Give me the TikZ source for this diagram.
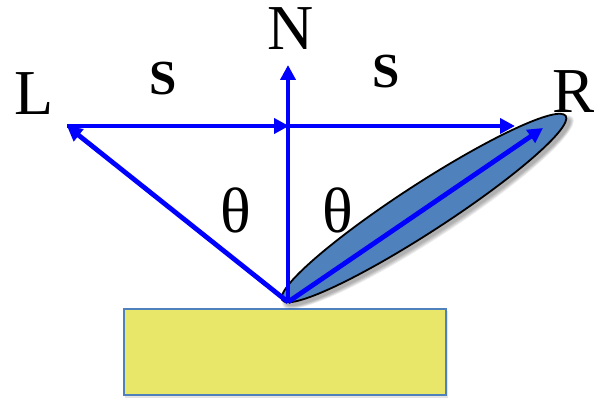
\documentclass[tikz,border=0pt]{standalone}
\usepackage{fontspec}
\setmainfont{Liberation Serif}
\usetikzlibrary{arrows.meta}
\definecolor{ellfill}{RGB}{79,129,189}
\definecolor{boxfill}{RGB}{232,231,106}
\definecolor{boxline}{RGB}{79,129,189}
\begin{document}
\begin{tikzpicture}[x=1pt,y=-1pt,
  vec/.style={draw={rgb,255:red,0;green,0;blue,255},line width=4.8pt,
    -{Triangle[length=15pt,width=15pt]}},
  big/.style={inner sep=0pt,font=\fontsize{64}{64}\selectfont},
  bigs/.style={inner sep=0pt,font=\fontsize{49}{49}\selectfont\bfseries}]
\useasboundingbox (0,0) rectangle (594,398);
% surface
\fill[black,opacity=0.10] (125,311) rectangle (448,398);
\draw[boxline,fill=boxfill,line width=2.4pt] (124,309) rectangle (446,395);
% lobe shadow
\foreach \k in {1,...,5}{
  \fill[black,opacity=0.07,rotate around={33:(428,212)}]
    (428,212) ellipse ({168+\k} and {22+\k});
}
% lobe
\node[coordinate] (C) at (424,208) {};
\draw[black,line width=1.8pt,fill=ellfill,rotate around={33:(C)}]
  (C) ellipse (169 and 24);
% points
\coordinate (P) at (288,302);
\coordinate (Lt) at (67,126);
\coordinate (M) at (289,126);
\coordinate (Rt) at (515,126);
\coordinate (Nt) at (288,65);
\coordinate (Ref) at (543,128);
% vectors
\draw[vec] (P) -- (Lt);
\draw[vec] (Lt) -- (M);
\draw[vec] (M) -- (Rt);
\draw[vec] (P) -- (Nt);
\draw[vec] (P) -- (Ref);
% labels
\node[big,anchor=base west] (lL) at (14,115) {L};
\node[big,anchor=base] (lN) at (291,50) {N};
\node[big,anchor=base west] (lR) at (552,113) {R};
\node[big] (th1) at (236,210) {θ};
\node[big] (th2) at (338,210) {θ};
\node[bigs] (s1) at (163,79) {S};
\node[bigs] (s2) at (386,72) {S};
\end{tikzpicture}
\end{document}
